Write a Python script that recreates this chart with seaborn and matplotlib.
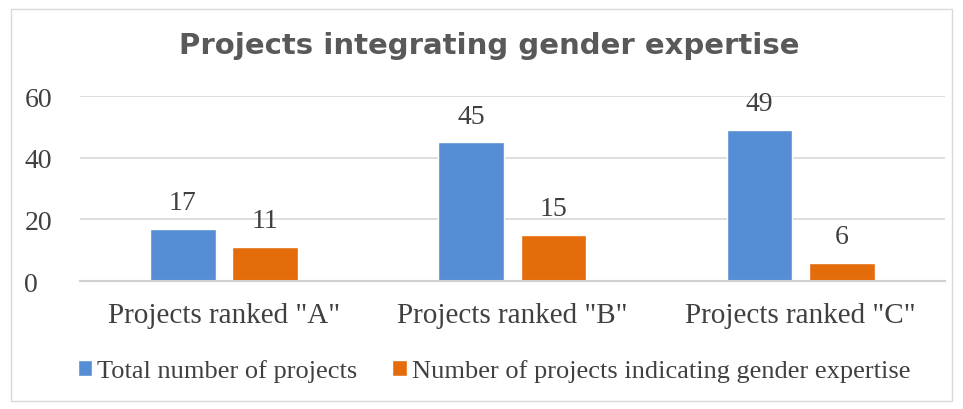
import matplotlib
matplotlib.use("Agg")
import matplotlib.pyplot as plt
import seaborn as sns
import pandas as pd
from matplotlib.patches import Rectangle

categories = ['Projects ranked "A"', 'Projects ranked "B"', 'Projects ranked "C"']
series_names = ["Total number of projects", "Number of projects indicating gender expertise"]
total_projects = [17, 45, 49]
gender_projects = [11, 15, 6]
yticks = [0, 20, 40, 60]

df = pd.DataFrame({
    "category": categories * 2,
    "series": [series_names[0]] * 3 + [series_names[1]] * 3,
    "value": total_projects + gender_projects,
})

sns.set_theme(style="white")
plt.rcParams["font.family"] = ["Liberation Serif", "DejaVu Sans"]

fig = plt.figure(figsize=(9.63, 4.10), dpi=100)
ax = fig.add_axes([0.083, 0.312, 0.898, 0.451])
palette = {series_names[0]: "#558ed5", series_names[1]: "#e46c0a"}
sns.barplot(data=df, x="category", y="value", hue="series", palette=palette,
            width=0.57, gap=0.2, ax=ax, saturation=1, legend=True)

for cont in ax.containers:
    ax.bar_label(cont, padding=10, fontsize=20, color="#404040")

ax.set_ylim(0, 60)
ax.set_xlim(-0.5, 2.5)
ax.set_yticks(yticks)
ax.yaxis.grid(True, color="#d9d9d9", linewidth=1.2)
ax.set_axisbelow(True)
ax.tick_params(axis="y", labelsize=20, colors="#404040", length=0, pad=40)
ax.tick_params(axis="x", labelsize=21, colors="#404040", length=0, pad=15)
for lbl in ax.get_yticklabels():
    lbl.set_horizontalalignment("left")
ax.set_xlabel("")
ax.set_ylabel("")
for s in ["top", "right", "left"]:
    ax.spines[s].set_visible(False)
ax.spines["bottom"].set_color("#d0d0d0")
ax.spines["bottom"].set_linewidth(1.5)

handles, labels = ax.get_legend_handles_labels()
ax.legend_.remove()
fig.legend(handles, labels, loc="center", bbox_to_anchor=(0.513, 0.093), ncol=2,
           frameon=False, fontsize=19, labelcolor="#404040",
           handlelength=0.55, handleheight=0.55, handletextpad=0.2, columnspacing=1.3)

fig.text(0.508, 0.887, "Projects integrating gender expertise", ha="center", va="center",
         fontsize=21, fontweight="bold", color="#595959", family="DejaVu Sans")

fig.patches.append(Rectangle((0.011, 0.02), 0.978, 0.955, transform=fig.transFigure,
                             fill=False, edgecolor="#d9d9d9", linewidth=1))

fig.savefig("out.png", dpi=100)
